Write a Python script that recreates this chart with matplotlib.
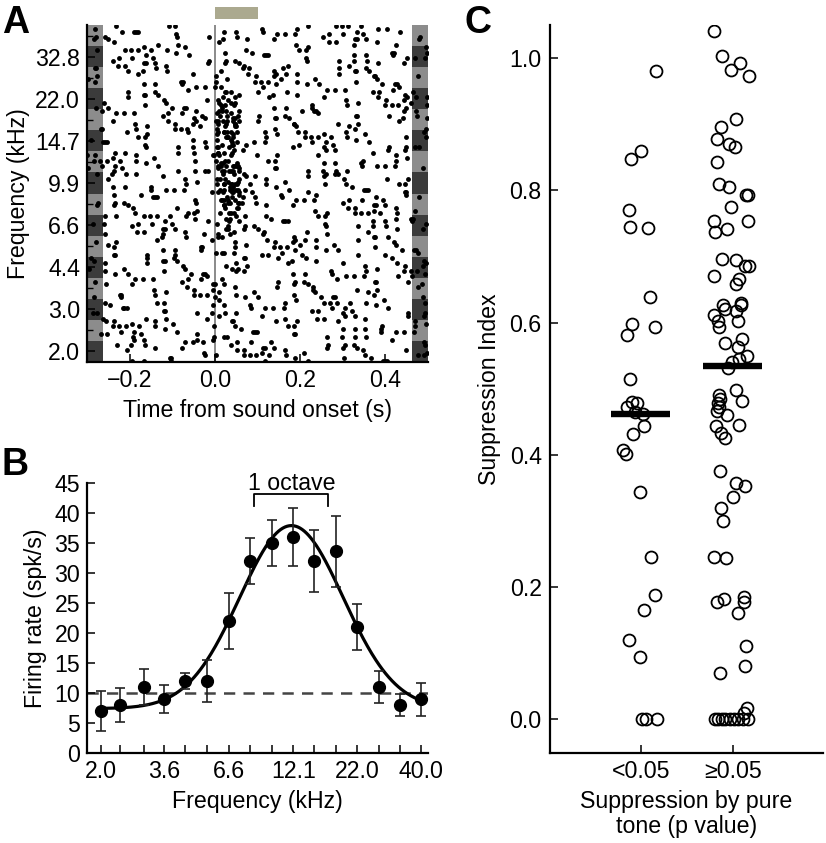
import matplotlib.pyplot as plt
import numpy as np
from matplotlib.patches import Rectangle
from matplotlib.ticker import NullLocator

plt.rcParams['font.family'] = ['Liberation Sans', 'DejaVu Sans']
plt.rcParams['font.size'] = 16.7

# tone frequencies (kHz), shared by A and B
freqs = [2.0, 2.4, 3.0, 3.6, 4.4, 5.4, 6.6, 8.1, 9.9, 12.1, 14.7, 18.0, 22.0, 26.9, 32.8, 40.0]

# A: raster, spontaneous spikes per frequency over the whole window
n_trials = 8
spont_spikes = [56, 58, 54, 57, 55, 56, 58, 55, 54, 57, 56, 58, 55, 57, 56, 55]
win_start, win_end = -0.3, 0.5
tone_on, tone_off = 0.0, 0.1
evoked_start, evoked_end = 0.004, 0.058

# B: tuning curve
rate = [7, 8, 11, 9, 12, 12, 22, 32, 35, 36, 32, 33.6, 21, 11, 8, 9]
rate_err = [3.3, 2.9, 3.0, 2.3, 1.3, 3.5, 4.6, 3.8, 3.9, 4.8, 5.1, 5.9, 3.8, 2.7, 1.9, 2.75]
spont_level = 10
fit_base, fit_amp, fit_center, fit_width = 7.4, 30.5, 11.9, 0.70

# C: suppression index, x is jitter around the category
si_sig = [0.981, 0.860, 0.847, 0.770, 0.744, 0.743, 0.639, 0.598, 0.593, 0.581,
          0.514, 0.480, 0.479, 0.473, 0.464, 0.462, 0.443, 0.431, 0.407, 0.401,
          0.343, 0.246, 0.188, 0.165, 0.120, 0.094, 0.0, 0.0, 0.0]
jit_sig = [0.17, 0.00, -0.11, -0.13, -0.12, 0.08, 0.10, -0.09, 0.15, -0.15,
           -0.12, -0.09, -0.04, -0.15, -0.06, 0.02, 0.03, -0.08, -0.19, -0.16,
           -0.01, 0.11, 0.15, 0.03, -0.13, -0.01, 0.01, 0.06, 0.18]
si_ns = [1.041, 1.003, 0.992, 0.982, 0.973, 0.908, 0.896, 0.878, 0.870, 0.866,
         0.843, 0.810, 0.805, 0.793, 0.793, 0.774, 0.753, 0.753, 0.742, 0.737,
         0.696, 0.695, 0.686, 0.685, 0.671, 0.666, 0.659, 0.630, 0.627, 0.627,
         0.620, 0.618, 0.611, 0.603, 0.603, 0.594, 0.575, 0.569, 0.563, 0.549,
         0.545, 0.541, 0.531, 0.498, 0.490, 0.485, 0.482, 0.478, 0.472, 0.466,
         0.460, 0.445, 0.444, 0.433, 0.425, 0.376, 0.358, 0.353, 0.336, 0.319,
         0.300, 0.246, 0.244, 0.185, 0.182, 0.178, 0.178, 0.160, 0.111, 0.081,
         0.070, 0.017, 0.010, 0.0, 0.0, 0.0, 0.0, 0.0, 0.0, 0.0, 0.0, 0.0]
jit_ns = [-0.20, -0.12, 0.08, -0.02, 0.18, 0.04, -0.13, -0.17, -0.04, 0.02,
          -0.17, -0.15, -0.04, 0.14, 0.17, -0.02, -0.20, 0.16, -0.06, -0.19,
          -0.12, 0.03, 0.13, 0.18, -0.20, 0.07, 0.03, 0.09, 0.09, -0.11,
          -0.08, 0.03, -0.20, -0.16, 0.06, -0.15, 0.10, -0.08, 0.06, 0.15,
          0.07, -0.01, -0.05, 0.03, -0.15, -0.14, 0.10, -0.16, -0.15, -0.17,
          -0.06, 0.07, -0.18, -0.13, -0.09, -0.14, 0.03, 0.13, 0.00, -0.13,
          -0.11, -0.20, -0.07, 0.12, -0.10, -0.17, 0.12, 0.06, 0.14, 0.13,
          -0.14, 0.15, 0.12, -0.19, -0.16, -0.12, -0.08, -0.03, 0.01, 0.06, 0.11, 0.17]
si_median = [0.462, 0.535]
groups = ['<0.05', '\u22650.05']


def spread(n, t0, t1, row, phase):
    # lay n spikes out over one frequency row with a quadratic Weyl sequence
    k = np.arange(1, n + 1)
    u = (phase + k * 0.7548776662 + k * k * 0.4142135624) % 1
    v = (phase * 2.3 + k * 0.5698402910 + k * k * 0.2360679775) % 1
    t = t0 + (t1 - t0) * u
    trial = np.floor(v * n_trials)
    return t, row - 0.5 + (trial + 0.5) / n_trials


fig = plt.figure(figsize=(8.26, 8.43), dpi=100)
W, H = 826, 843
axA = fig.add_axes([87 / W, 1 - 362 / H, 341 / W, 337 / H])
axB = fig.add_axes([87 / W, 1 - 753 / H, 341 / W, 270 / H])
axC = fig.add_axes([550 / W, 1 - 753 / H, 273 / W, 728 / H])

for ax in (axA, axB, axC):
    for s in ('top', 'right'):
        ax.spines[s].set_visible(False)
    for s in ('left', 'bottom'):
        ax.spines[s].set_linewidth(1.6)
    ax.tick_params(direction='in', length=6, width=1.1, pad=5)
    ax.tick_params(which='minor', direction='in', length=4, width=1.0)

# ---- A
dark, light = '#3b3b3b', '#8c8c8c'
stripe_w = 0.038
for i in range(len(freqs)):
    c = dark if i % 2 == 0 else light
    axA.add_patch(Rectangle((win_start, i - 0.5), stripe_w, 1, color=c, lw=0, zorder=0))
    axA.add_patch(Rectangle((win_end - stripe_w, i - 0.5), stripe_w, 1, color=c, lw=0, zorder=0))
axA.axvline(0, color='#8a8a8a', lw=1.4, zorder=1)
for i in range(len(freqs)):
    t, y = spread(spont_spikes[i], win_start, win_end, i, (0.618 * i) % 1)
    axA.plot(t, y, 'o', ms=3.5, color='k', mec='none', zorder=2)
    tone_part = spont_spikes[i] * (tone_off - tone_on) / (win_end - win_start)
    n_ev = int(round(max(0, rate[i] * n_trials * (tone_off - tone_on) - tone_part)))
    if n_ev:
        t, y = spread(n_ev, evoked_start, evoked_end, i, (0.37 * i + 0.2) % 1)
        axA.plot(t, y, 'o', ms=3.5, color='k', mec='none', zorder=2)
axA.add_patch(Rectangle((tone_on, 1.018), tone_off - tone_on, 0.035, color='#aba98f',
                        transform=axA.get_xaxis_transform(), clip_on=False, lw=0))
axA.set_xlim(win_start, win_end)
axA.set_ylim(-0.5, len(freqs) - 0.5)
axA.set_xticks([-0.2, 0.0, 0.2, 0.4])
axA.set_yticks(range(0, len(freqs), 2), labels=['%.1f' % f for f in freqs[::2]])
axA.set_yticks(range(1, len(freqs), 2), minor=True)
axA.set_xlabel('Time from sound onset (s)', labelpad=5)
axA.set_ylabel('Frequency (kHz)', labelpad=4)

# ---- B
axB.set_xscale('log', base=2)
axB.axhline(spont_level, color='#444444', lw=1.8, ls=(0, (4.5, 3.3)), zorder=1)
xf = np.logspace(np.log2(freqs[0]), np.log2(freqs[-1]), 300, base=2)
yf = fit_base + fit_amp * np.exp(-np.log2(xf / fit_center) ** 2 / (2 * fit_width ** 2))
axB.plot(xf, yf, color='k', lw=2.3, zorder=2)
axB.errorbar(freqs, rate, yerr=rate_err, fmt='o', color='k', ms=8.5, capsize=3.6,
             elinewidth=1.2, capthick=1.2, ecolor='#222222', zorder=3)
lo, hi = fit_center / np.sqrt(2), fit_center * np.sqrt(2)
axB.plot([lo, lo, hi, hi], [41.2, 43.1, 43.1, 41.2], color='k', lw=1.3, clip_on=False)
axB.text(np.sqrt(lo * hi), 43.85, '1 octave', ha='center', va='baseline')
axB.set_xlim(1.754, 42.75)
axB.set_ylim(0, 45)
axB.set_yticks(range(0, 46, 5))
axB.set_xticks(freqs, labels=['%.1f' % f if i % 3 == 0 else '' for i, f in enumerate(freqs)])
axB.xaxis.set_minor_locator(NullLocator())
axB.set_xlabel('Frequency (kHz)', labelpad=5)
axB.set_ylabel('Firing rate (spk/s)', labelpad=5)

# ---- C
axC.plot(0 + np.array(jit_sig), si_sig, 'o', mfc='none', mec='k', ms=8.6, mew=1.3)
axC.plot(1 + np.array(jit_ns), si_ns, 'o', mfc='none', mec='k', ms=8.6, mew=1.3)
for i, m in enumerate(si_median):
    axC.plot([i - 0.32, i + 0.32], [m, m], color='k', lw=4.6, solid_capstyle='butt', zorder=3)
axC.set_xlim(-0.986, 1.98)
axC.set_ylim(-0.051, 1.05)
axC.set_xticks([0, 1], labels=groups)
axC.set_yticks(np.arange(0, 1.01, 0.2), labels=['%.1f' % v for v in np.arange(0, 1.01, 0.2)])
axC.tick_params(axis='y', pad=6)
axC.set_xlabel('Suppression by pure\ntone (p value)', labelpad=5, linespacing=1.1)
axC.set_ylabel('Suppression Index', labelpad=6)

for x, y, s in [(2, 33, 'A'), (2, 475, 'B'), (464, 33, 'C')]:
    fig.text(x / W, 1 - y / H, s, fontsize=27, fontweight='bold', va='baseline', ha='left')

fig.savefig('out.png', dpi=100)
